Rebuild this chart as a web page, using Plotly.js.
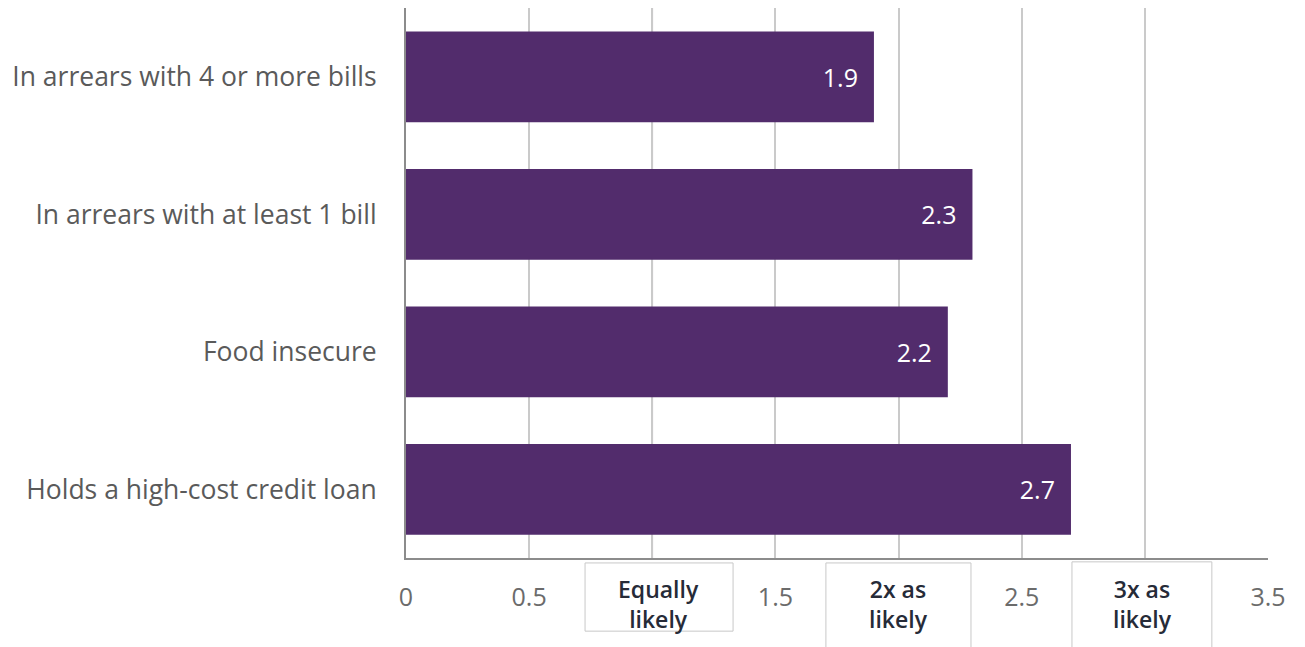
<!DOCTYPE html>
<html>
<head>
<meta charset="utf-8">
<script src="https://cdn.plot.ly/plotly-3.0.1.min.js"></script>
<style>html,body{margin:0;padding:0;background:#fff;}#chart{width:1305px;height:647px;}</style>
</head>
<body>
<div id="chart"></div>
<script>
const categories = ["In arrears with 4 or more bills", "In arrears with at least 1 bill", "Food insecure", "Holds a high-cost credit loan"];
const values = [1.9, 2.3, 2.2, 2.7];
const tickValues = [0, 0.5, 1, 1.5, 2, 2.5, 3, 3.5];
const tickLabels = ["0", "0.5", "", "1.5", "", "2.5", "", "3.5"];
const boxLabels = ["Equally<br>likely", "2x as<br>likely", "3x as<br>likely"];
const boxCentres = [1, 2, 3];

const FONT = "'Open Sans', Lato, sans-serif";

const trace = {
  type: "bar",
  orientation: "h",
  y: categories,
  x: values,
  marker: {color: "#522C6C"},
  texttemplate: "%{x:.1f}\u00a0\u00a0",
  textposition: "inside",
  insidetextanchor: "end",
  textfont: {color: "#ffffff", size: 25, family: FONT},
  hoverinfo: "skip",
  cliponaxis: false
};

const boxShapes = [
  {x0: 0.727, x1: 1.328, y0: -0.009, y1: -0.133},
  {x0: 1.705, x1: 2.294, y0: -0.009, y1: -0.2},
  {x0: 2.704, x1: 3.272, y0: -0.007, y1: -0.2}
].map(b => ({type: "rect", xref: "x", yref: "paper", x0: b.x0, x1: b.x1, y0: b.y0, y1: b.y1,
  line: {color: "#c8c8c8", width: 1}, fillcolor: "rgba(0,0,0,0)", layer: "above"}));

const annotations = boxLabels.map((t, i) => ({
  x: boxCentres[i] + (i === 0 ? 0.027 : 0) - (i === 2 ? 0.01 : 0),
  xref: "x", yref: "paper", y: -0.083, yanchor: "middle", xanchor: "center",
  text: t, showarrow: false,
  font: {family: FONT, size: 23, color: "#262b38", weight: 600},
  align: "center"
}));

const refLine = {type: "line", xref: "x", yref: "paper", x0: 1, x1: 1, y0: 0, y1: 1,
  line: {color: "#7a6a86", width: 1.5}, layer: "below"};

const layout = {
  width: 1305, height: 647,
  margin: {l: 406, r: 37, t: 8, b: 89},
  paper_bgcolor: "#ffffff", plot_bgcolor: "#ffffff",
  showlegend: false,
  bargap: 0.34,
  xaxis: {
    range: [0, 3.5],
    tickvals: tickValues,
    ticktext: tickLabels,
    showgrid: true, gridcolor: "#cacaca", gridwidth: 2,
    zeroline: false,
    showline: true, linecolor: "#8c8c8c", linewidth: 2,
    ticks: "", ticklabelstandoff: 16,
    tickfont: {family: FONT, size: 25, color: "#6b6b6b"},
    fixedrange: true
  },
  yaxis: {
    type: "category",
    autorange: "reversed",
    showgrid: false, zeroline: false,
    showline: true, linecolor: "#8c8c8c", linewidth: 2,
    ticks: "", ticklabelstandoff: 22,
    tickfont: {family: FONT, size: 26.5, color: "#5a5a5a"},
    fixedrange: true
  },
  shapes: [refLine].concat(boxShapes),
  annotations: annotations
};

Plotly.newPlot("chart", [trace], layout, {displayModeBar: false, staticPlot: true});
</script>
</body>
</html>
